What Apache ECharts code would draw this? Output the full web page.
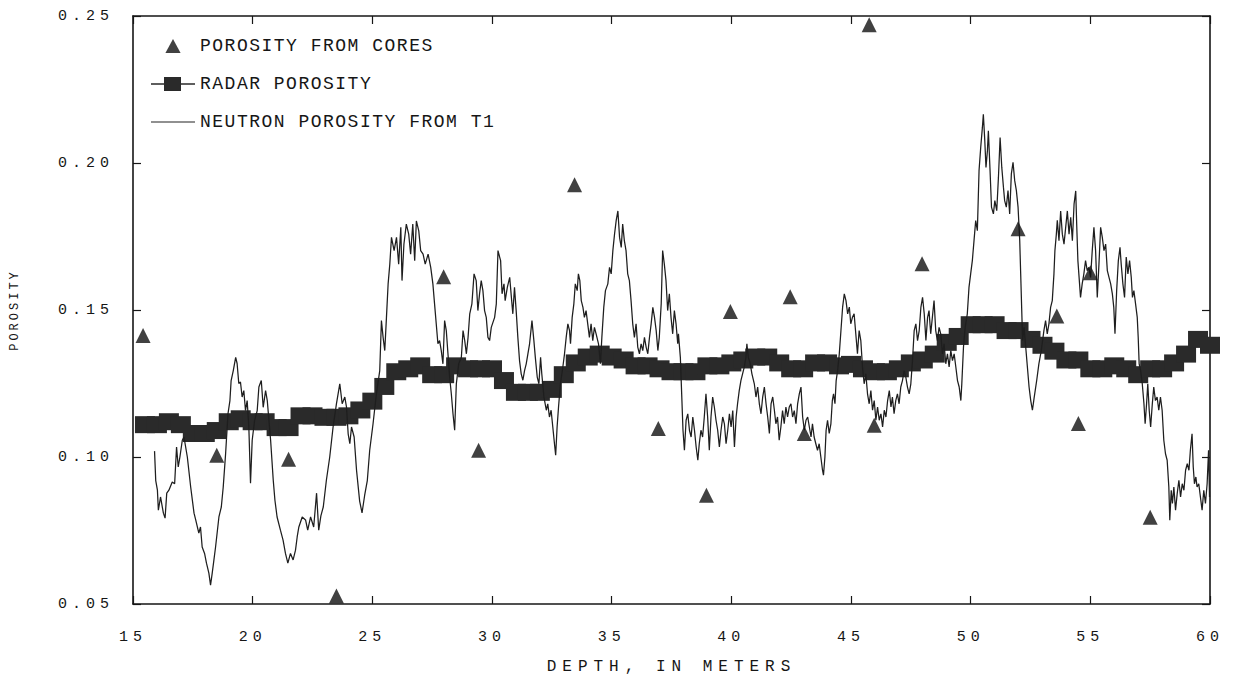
<!DOCTYPE html>
<html>
<head>
<meta charset="utf-8">
<script src="https://cdn.jsdelivr.net/npm/echarts@6/dist/echarts.min.js"></script>
<style>
html,body{margin:0;padding:0;background:#fff}
#chart{width:1233px;height:685px}
</style>
</head>
<body>
<div id="chart"></div>
<script>
// ---------- DATA ----------
const xTickValues = [15, 20, 25, 30, 35, 40, 45, 50, 55, 60];
const yTickValues = [0.05, 0.10, 0.15, 0.20, 0.25];

const coreDepth = [15.42, 18.5, 21.5, 23.5, 27.98, 29.44, 33.45, 36.95, 38.96, 39.96,
  42.46, 43.05, 45.76, 45.97, 47.97, 51.98, 53.6, 54.5, 55.0, 57.5];
const corePorosity = [0.1413, 0.1006, 0.0992, 0.0527, 0.1613, 0.1023, 0.1926, 0.1097, 0.087, 0.1495,
  0.1545, 0.108, 0.247, 0.1108, 0.1657, 0.1776, 0.148, 0.1114, 0.1627, 0.0795];

const radarDepth = [15.5, 16, 16.5, 17, 17.5, 18, 18.5, 19, 19.5, 20, 20.5, 21, 21.5, 22, 22.5, 23, 23.5, 24, 24.5, 25,
  25.5, 26, 26.5, 27, 27.5, 28, 28.5, 29, 29.5, 30, 30.5, 31, 31.5, 32, 32.5, 33, 33.5, 34, 34.5, 35,
  35.5, 36, 36.5, 37, 37.5, 38, 38.5, 39, 39.5, 40, 40.5, 41, 41.5, 42, 42.5, 43, 43.5, 44, 44.5, 45,
  45.5, 46, 46.5, 47, 47.5, 48, 48.5, 49, 49.5, 50, 50.5, 51, 51.5, 52, 52.5, 53, 53.5, 54, 54.5, 55,
  55.5, 56, 56.5, 57, 57.5, 58, 58.5, 59, 59.5, 60];
const radarPorosity = [0.111, 0.111, 0.112, 0.111, 0.108, 0.108, 0.109, 0.112, 0.113, 0.112, 0.112, 0.110, 0.110, 0.114, 0.114, 0.1135, 0.1135, 0.114, 0.116, 0.119,
  0.124, 0.129, 0.130, 0.131, 0.128, 0.128, 0.131, 0.130, 0.130, 0.130, 0.126, 0.122, 0.122, 0.122, 0.123, 0.128, 0.132, 0.134, 0.135, 0.134,
  0.133, 0.131, 0.131, 0.130, 0.129, 0.129, 0.129, 0.131, 0.131, 0.132, 0.133, 0.134, 0.134, 0.132, 0.130, 0.130, 0.132, 0.132, 0.131, 0.1315,
  0.130, 0.129, 0.129, 0.130, 0.132, 0.133, 0.135, 0.139, 0.141, 0.145, 0.145, 0.145, 0.143, 0.143, 0.140, 0.138, 0.136, 0.133, 0.133, 0.130,
  0.130, 0.131, 0.130, 0.128, 0.130, 0.130, 0.132, 0.135, 0.140, 0.138];

// [depth, porosity]
const neutronLog = [
[15.90,0.102],[15.95,0.092],[16.02,0.0887],[16.06,0.0819],[16.15,0.0864],[16.27,0.0809],[16.34,0.0792],[16.41,0.0877],[16.50,0.0887],[16.64,0.0915],[16.74,0.0909],[16.82,0.1034],[16.89,0.0966],[16.96,0.1],[17.06,0.1057],[17.13,0.1068],[17.27,0.1],[17.41,0.0898],[17.55,0.0809],[17.62,0.0786],[17.75,0.0741],[17.82,0.0762],[17.89,0.0694],[17.99,0.0672],[18.07,0.0639],[18.17,0.0605],[18.24,0.0564],[18.31,0.0605],[18.38,0.0649],[18.45,0.0694],[18.59,0.0796],[18.69,0.083],[18.77,0.0898],[18.87,0.1012],[18.97,0.1148],[19.05,0.1192],[19.10,0.126],[19.19,0.1294],[19.29,0.1339],[19.35,0.1318],[19.42,0.125],[19.49,0.1255],[19.56,0.1204],[19.63,0.1226],[19.70,0.1158],[19.77,0.1192],[19.84,0.1102],[19.91,0.0911],[19.98,0.1057],[20.08,0.1124],[20.19,0.1158],[20.26,0.1238],[20.36,0.126],[20.44,0.1169],[20.54,0.1226],[20.61,0.1192],[20.68,0.1124],[20.75,0.1057],[20.86,0.0921],[20.93,0.0853],[21.02,0.0796],[21.16,0.0751],[21.27,0.0717],[21.37,0.0672],[21.47,0.0639],[21.58,0.0672],[21.69,0.065],[21.79,0.0683],[21.86,0.0728],[21.93,0.0762],[22.07,0.0796],[22.21,0.0786],[22.30,0.0751],[22.42,0.0796],[22.55,0.0762],[22.67,0.0877],[22.76,0.0751],[22.85,0.080],[22.95,0.083],
[23.08,0.0921],[23.22,0.1],[23.36,0.1102],[23.50,0.1181],[23.64,0.1249],[23.74,0.1181],[23.85,0.1204],[23.92,0.117],[23.99,0.1079],[24.06,0.1045],[24.13,0.1102],[24.24,0.1068],[24.34,0.0955],[24.47,0.085],[24.57,0.081],[24.68,0.087],[24.79,0.092],[24.89,0.1023],[25.03,0.1113],[25.17,0.1215],[25.31,0.1294],[25.38,0.1464],[25.45,0.1407],[25.52,0.1362],[25.59,0.1475],[25.66,0.1589],[25.73,0.1656],[25.80,0.1747],[25.91,0.1702],[26.01,0.1747],[26.10,0.1656],[26.19,0.1781],[26.24,0.16],[26.32,0.1724],[26.42,0.1792],[26.52,0.1758],[26.60,0.169],[26.69,0.1792],[26.77,0.1668],[26.84,0.1803],[26.94,0.1769],[27.02,0.1702],[27.12,0.169],[27.21,0.1656],[27.33,0.169],[27.44,0.1645],[27.53,0.1589],[27.60,0.1521],[27.67,0.1453],[27.74,0.1385],[27.81,0.1396],[27.88,0.1362],[27.95,0.1317],[28.02,0.1464],[28.09,0.143],[28.16,0.1351],[28.23,0.1272],[28.30,0.1215],[28.37,0.1147],[28.44,0.1091],[28.51,0.1249],[28.61,0.1317],[28.72,0.1339],[28.79,0.143],[28.86,0.1396],[28.93,0.1351],[29.00,0.1407],[29.07,0.1487],[29.16,0.1521],[29.25,0.1623],[29.34,0.16],[29.41,0.1498],[29.48,0.1555],[29.55,0.16],[29.62,0.1566],[29.69,0.1498],[29.76,0.1475],[29.83,0.1407],[29.90,0.1396],[29.97,0.1441],[30.11,0.1475],[30.18,0.1521],[30.25,0.1702],[30.32,0.168],
[30.36,0.1668],[30.42,0.1555],[30.50,0.1589],[30.55,0.1532],[30.64,0.1577],[30.74,0.1611],[30.81,0.1543],[30.87,0.1487],[30.94,0.1577],[31.01,0.1498],[31.08,0.1407],[31.15,0.1328],[31.22,0.1283],[31.29,0.1261],[31.36,0.1294],[31.43,0.1317],[31.50,0.1351],[31.57,0.1385],[31.67,0.1464],[31.75,0.1396],[31.81,0.1339],[31.89,0.1272],[31.96,0.1249],[32.03,0.1339],[32.08,0.1283],[32.17,0.1204],[32.27,0.1159],[32.33,0.1181],[32.40,0.1136],[32.47,0.1159],[32.54,0.1102],[32.61,0.1045],[32.66,0.1006],[32.72,0.1102],[32.78,0.117],[32.86,0.1249],[32.96,0.1306],[33.03,0.1351],[33.10,0.1407],[33.17,0.1453],[33.24,0.143],[33.28,0.1385],[33.35,0.1475],[33.42,0.1521],[33.48,0.1589],[33.56,0.1566],[33.61,0.1623],[33.67,0.16],[33.73,0.1532],[33.80,0.1509],[33.86,0.1475],[33.93,0.1498],[34.00,0.1453],[34.07,0.1407],[34.14,0.1453],[34.21,0.1396],[34.28,0.1441],[34.35,0.1419],[34.45,0.1385],[34.53,0.1317],[34.59,0.1407],[34.67,0.1509],[34.74,0.1566],[34.84,0.1589],[34.91,0.1645],[34.98,0.1623],[35.05,0.1702],[35.12,0.1758],[35.19,0.1805],[35.26,0.1837],[35.33,0.1747],[35.40,0.1713],[35.46,0.1792],[35.53,0.1736],[35.60,0.1702],[35.67,0.1623],[35.74,0.16],[35.81,0.1532],[35.88,0.1453],[35.95,0.1407],[36.02,0.1453],[36.09,0.1374],[36.16,0.1351],[36.23,0.1385],[36.30,0.1362],[36.37,0.1407],[36.44,0.1374],[36.51,0.1351],[36.58,0.1407],[36.65,0.1453],[36.72,0.1509],[36.79,0.1475],[36.86,0.143],[36.93,0.1362],[36.99,0.1407],[37.07,0.1521],[37.13,0.1702],[37.20,0.1656],[37.27,0.16],[37.34,0.1498],[37.41,0.1555],[37.48,0.1475],[37.55,0.1419],[37.62,0.1498],[37.69,0.1453],[37.76,0.1385],
[37.79,0.1419],[37.87,0.1339],[37.93,0.1204],[37.98,0.1091],[38.04,0.1023],[38.11,0.1125],[38.18,0.1147],[38.25,0.1091],[38.32,0.1068],[38.39,0.1136],[38.46,0.1091],[38.53,0.1034],[38.60,0.0989],[38.66,0.1045],[38.73,0.1091],[38.80,0.1068],[38.87,0.1136],[38.94,0.1215],[39.01,0.1136],[39.08,0.1023],[39.15,0.1136],[39.22,0.1204],[39.29,0.117],[39.36,0.1125],[39.43,0.1091],[39.50,0.1034],[39.57,0.1091],[39.64,0.1136],[39.71,0.1113],[39.78,0.1045],[39.85,0.1091],[39.92,0.1147],[39.99,0.1102],[40.06,0.1158],[40.13,0.1034],[40.20,0.1136],[40.26,0.1181],[40.33,0.1226],[40.40,0.126],[40.47,0.1283],[40.54,0.1306],[40.61,0.1339],[40.65,0.1385],[40.71,0.1339],[40.79,0.1317],[40.86,0.1283],[40.96,0.1249],[41.03,0.1204],[41.10,0.1238],[41.17,0.1181],[41.24,0.1147],[41.31,0.1204],[41.38,0.1238],[41.45,0.1181],[41.52,0.1136],[41.59,0.108],[41.66,0.1181],[41.73,0.1204],[41.80,0.1158],[41.86,0.1113],[41.93,0.1136],[42.00,0.1057],[42.07,0.1102],[42.14,0.1158],[42.21,0.1113],[42.28,0.117],[42.35,0.1136],[42.42,0.117],[42.49,0.1181],[42.56,0.1136],[42.63,0.1158],[42.70,0.1113],[42.77,0.1181],[42.84,0.1215],[42.91,0.1238],[42.98,0.1136],[43.05,0.1091],[43.12,0.1125],[43.19,0.1136],[43.26,0.1102],[43.33,0.1068],[43.39,0.1113],[43.46,0.1068],[43.53,0.1045],[43.60,0.1023],[43.67,0.1045],[43.74,0.1],[43.81,0.0955],[43.85,0.0938],[43.91,0.1],[43.96,0.1091],[44.02,0.1125],[44.09,0.108],[44.16,0.1113],[44.22,0.1192],[44.27,0.1215],[44.33,0.1181],[44.38,0.126],[44.44,0.1294],[44.51,0.135],[44.58,0.143],[44.65,0.151],[44.72,0.1555],[44.79,0.1532],[44.86,0.1487],[44.93,0.151],[44.99,0.1453],[45.06,0.1475],
[45.13,0.1487],[45.20,0.1419],[45.27,0.1351],[45.34,0.143],[45.41,0.1396],[45.48,0.1306],[45.55,0.1249],[45.62,0.1283],[45.69,0.1215],[45.76,0.1181],[45.83,0.1226],[45.90,0.1159],[45.97,0.1192],[46.04,0.1125],[46.11,0.117],[46.18,0.1125],[46.25,0.1147],[46.32,0.1102],[46.39,0.1159],[46.46,0.1136],[46.53,0.1192],[46.60,0.1226],[46.67,0.117],[46.73,0.1204],[46.80,0.1147],[46.87,0.1192],[46.94,0.1215],[47.01,0.1181],[47.08,0.1238],[47.15,0.126],[47.22,0.1294],[47.29,0.1272],[47.36,0.1238],[47.43,0.1215],[47.50,0.1249],[47.57,0.1328],[47.64,0.143],[47.71,0.1453],[47.78,0.1396],[47.85,0.143],[47.92,0.1509],[47.99,0.1543],[48.06,0.1487],[48.13,0.1396],[48.20,0.1475],[48.26,0.1498],[48.33,0.1419],[48.40,0.1475],[48.47,0.1532],[48.54,0.143],[48.61,0.1396],[48.68,0.1441],[48.75,0.1419],[48.82,0.1351],[48.89,0.1385],[48.96,0.1317],[49.03,0.1351],[49.10,0.1306],[49.17,0.1362],[49.24,0.1328],[49.31,0.1351],[49.38,0.1306],[49.45,0.126],[49.52,0.1238],[49.59,0.1192],[49.63,0.1249],[49.70,0.1374],[49.77,0.1441],[49.86,0.1487],[49.93,0.1577],[50.00,0.1623],[50.07,0.1668],[50.14,0.1736],[50.21,0.1804],[50.28,0.177],[50.35,0.1974],[50.42,0.2053],[50.49,0.2121],[50.53,0.2166],[50.59,0.2076],[50.64,0.1985],[50.70,0.2042],[50.74,0.211],[50.81,0.1974],[50.87,0.185],[50.95,0.1827],[51.01,0.1872],[51.09,0.1838],[51.16,0.1951],[51.23,0.2087],[51.30,0.1985],[51.37,0.1917],[51.42,0.1872],[51.49,0.185],[51.56,0.1906],[51.63,0.1827],[51.70,0.1963],[51.77,0.2002],[51.84,0.194],[51.91,0.1906],[51.98,0.185],[52.05,0.1736],[52.09,0.1623],[52.13,0.1509],[52.17,0.1396],[52.23,0.1441],[52.30,0.1374],[52.37,0.1306],[52.44,0.1238],[52.51,0.1192],[52.58,0.1159],
[52.65,0.12],[52.76,0.1261],[52.85,0.1317],[52.95,0.1362],[53.06,0.143],[53.13,0.1464],[53.20,0.1419],[53.27,0.1453],[53.34,0.1509],[53.41,0.1532],[53.48,0.1623],[53.52,0.1702],[53.58,0.1758],[53.62,0.1805],[53.69,0.1736],[53.76,0.1837],[53.83,0.1758],[53.90,0.1724],[53.97,0.1781],[54.04,0.1837],[54.11,0.1758],[54.18,0.1815],[54.25,0.1736],[54.32,0.186],[54.39,0.1905],[54.43,0.1792],[54.48,0.1668],[54.54,0.16],[54.59,0.1543],[54.66,0.1589],[54.73,0.1623],[54.80,0.1668],[54.87,0.1634],[54.94,0.1645],[55.01,0.1611],[55.08,0.1702],[55.15,0.1781],[55.22,0.1702],[55.29,0.1543],[55.36,0.1656],[55.43,0.1781],[55.50,0.1747],[55.57,0.1702],[55.64,0.1724],[55.71,0.1634],[55.78,0.1611],[55.85,0.1589],[55.92,0.1555],[55.98,0.1509],[56.03,0.1419],[56.10,0.1566],[56.17,0.1668],[56.24,0.1713],[56.29,0.1656],[56.36,0.1589],[56.43,0.1543],[56.50,0.168],[56.57,0.1623],[56.64,0.1668],[56.71,0.1611],[56.76,0.1543],[56.82,0.1566],[56.89,0.1521],[56.96,0.1475],[57.00,0.1407],[57.04,0.1317],[57.10,0.1294],[57.17,0.1249],[57.24,0.1181],[57.29,0.1113],[57.35,0.1181],[57.40,0.1249],[57.46,0.1159],[57.52,0.1102],[57.59,0.1181],[57.65,0.1238],[57.72,0.1192],[57.79,0.1204],[57.86,0.1159],[57.93,0.1204],[58.00,0.1159],[58.07,0.1057],[58.14,0.1011],[58.21,0.0989],[58.28,0.0898],[58.32,0.0785],[58.38,0.0887],[58.43,0.0842],[58.49,0.0898],[58.56,0.0819],[58.63,0.0876],[58.70,0.0921],[58.77,0.0864],[58.84,0.0909],[58.91,0.0887],[58.98,0.0955],[59.05,0.0977],[59.12,0.0955],[59.18,0.1023],[59.25,0.1079],[59.30,0.0966],[59.35,0.0909],[59.41,0.0932],[59.46,0.0898],[59.53,0.0909],[59.60,0.0864],[59.67,0.0819],[59.74,0.0887],[59.81,0.0842],[59.88,0.0909],[59.94,0.1023],[59.98,0.0864]
];

// ---------- CHART ----------
const FONT = '"Liberation Mono", "DejaVu Sans Mono", monospace';
const INK = '#161616';
const chart = echarts.init(document.getElementById('chart'), null, {renderer: 'svg'});

const frameLine = {show: true, onZero: false, lineStyle: {color: INK, width: 1.6}};
const innerTick = {show: true, inside: true, length: 8, lineStyle: {color: INK, width: 1.2}};

const option = {
  animation: false,
  backgroundColor: '#ffffff',
  grid: {left: 133, right: 23, top: 16, bottom: 81, containLabel: false},
  legend: {
    orient: 'vertical',
    left: 146,
    top: 32,
    itemWidth: 44,
    itemHeight: 14,
    itemGap: 20,
    selectedMode: false,
    symbolKeepAspect: true,
    textStyle: {fontFamily: FONT, fontSize: 18, color: INK},
    data: [
      {name: 'POROSITY FROM CORES', icon: 'path://M0,12L6.5,0L13,12Z', itemStyle: {color: '#111111'}},
      {name: 'RADAR POROSITY', icon: 'path://M0,6.3H13V0H30V6.3H44V7.7H30V14H13V7.7H0Z', itemStyle: {color: '#2a2a2a'}},
      {name: 'NEUTRON POROSITY FROM T1', icon: 'path://M0,6.5H44V7.5H0Z', itemStyle: {color: '#222222'}}
    ]
  },
  xAxis: [{
    type: 'value', min: xTickValues[0], max: xTickValues[xTickValues.length - 1], interval: 5,
    position: 'bottom',
    axisLine: frameLine, axisTick: innerTick,
    axisLabel: {margin: 26, fontFamily: FONT, fontSize: 15, color: INK},
    splitLine: {show: false},
    name: 'DEPTH, IN METERS', nameLocation: 'middle', nameGap: 55,
    nameTextStyle: {fontFamily: FONT, fontSize: 16, color: INK}
  }, {
    type: 'value', min: xTickValues[0], max: xTickValues[xTickValues.length - 1], interval: 5,
    position: 'top',
    axisLine: frameLine, axisTick: innerTick,
    axisLabel: {show: false}, splitLine: {show: false}
  }],
  yAxis: [{
    type: 'value', min: yTickValues[0], max: yTickValues[yTickValues.length - 1], interval: 0.05,
    position: 'left',
    axisLine: frameLine, axisTick: innerTick,
    axisLabel: {margin: 19, fontFamily: FONT, fontSize: 15, color: INK, formatter: v => v.toFixed(2)},
    splitLine: {show: false},
    name: 'POROSITY', nameLocation: 'middle', nameGap: 112, nameRotate: 90,
    nameTextStyle: {fontFamily: FONT, fontSize: 12, color: INK}
  }, {
    type: 'value', min: yTickValues[0], max: yTickValues[yTickValues.length - 1], interval: 0.05,
    position: 'right',
    axisLine: frameLine, axisTick: innerTick,
    axisLabel: {show: false}, splitLine: {show: false}
  }],
  series: [{
    name: 'POROSITY FROM CORES',
    type: 'scatter',
    data: coreDepth.map((d, i) => [d, corePorosity[i]]),
    symbol: 'triangle',
    symbolSize: 15,
    itemStyle: {color: '#111111'},
    z: 6
  }, {
    name: 'RADAR POROSITY',
    type: 'line',
    data: radarDepth.map((d, i) => [d, radarPorosity[i]]),
    symbol: 'rect',
    symbolSize: [20, 17],
    showSymbol: true,
    showAllSymbol: true,
    clip: false,
    lineStyle: {color: '#2a2a2a', width: 3},
    itemStyle: {color: '#2a2a2a', borderWidth: 0},
    z: 3
  }, {
    name: 'NEUTRON POROSITY FROM T1',
    type: 'line',
    data: neutronLog,
    symbol: 'none',
    lineStyle: {color: '#1e1e1e', width: 1.25},
    itemStyle: {color: '#1e1e1e'},
    z: 4
  }]
};

chart.setOption(option);

// typewriter-like letter spacing of the original lettering
function spaceLetters() {
  document.querySelectorAll('#chart text').forEach(t => {
    const s = t.textContent;
    let sp = '0px';
    if (/^[0-9.]+$/.test(s)) sp = '5px';
    else if (s === 'DEPTH, IN METERS') sp = '6px';
    else if (s === 'POROSITY') sp = '3px';
    else sp = '1.5px';
    t.style.letterSpacing = sp;
  });
}
chart.on('finished', spaceLetters);
setTimeout(spaceLetters, 50);
</script>
</body>
</html>
